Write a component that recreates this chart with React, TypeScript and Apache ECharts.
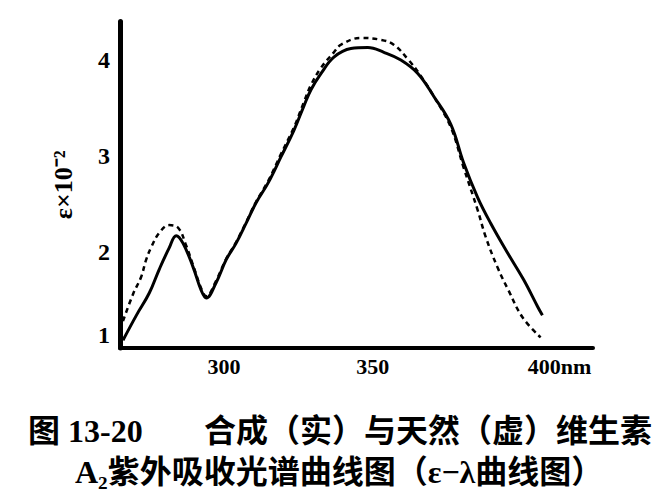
import React, { useEffect, useRef } from "react";
import * as echarts from "echarts";

// wavelength (nm) and ε×10⁻²
const solidX = [266, 270.5, 274.8, 278.2, 281.5, 283.9, 286.2, 289.6, 292.3, 294.0, 297.3, 300.7, 304.0, 307.4, 310.7, 314.8, 319.1, 323.5, 326.8, 329.2, 332.6, 336.9, 342.6, 348.3, 353.7, 359.4, 365.1, 370.5, 376.2, 380.5, 385.2, 389.6, 395.3, 400.7, 405.4, 407.0];
const solidY = [1.08, 1.34, 1.57, 1.82, 2.04, 2.17, 2.09, 1.84, 1.60, 1.52, 1.68, 1.92, 2.09, 2.30, 2.51, 2.72, 2.99, 3.27, 3.52, 3.69, 3.86, 4.03, 4.12, 4.13, 4.08, 4.00, 3.86, 3.62, 3.33, 2.93, 2.57, 2.30, 1.99, 1.71, 1.43, 1.34];

const dashedX = [266, 269.5, 272.1, 273.8, 275.5, 278.2, 281.5, 284.6, 287.2, 289.6, 292.3, 294.0, 297.3, 300.7, 304.0, 307.4, 310.7, 314.8, 319.1, 323.5, 326.8, 329.2, 332.6, 336.9, 339.3, 346.0, 352.7, 357.0, 362.0, 366.0, 370.5, 376.2, 380.5, 385.2, 387.9, 391.9, 395.6, 400.3, 406.4];
const dashedY = [1.28, 1.57, 1.74, 1.92, 2.05, 2.20, 2.28, 2.25, 2.07, 1.86, 1.62, 1.54, 1.70, 1.93, 2.10, 2.31, 2.52, 2.74, 3.02, 3.30, 3.56, 3.74, 3.92, 4.08, 4.16, 4.23, 4.21, 4.16, 4.00, 3.84, 3.62, 3.30, 2.88, 2.44, 2.16, 1.84, 1.60, 1.32, 1.11];

const xTicks = [300, 350, 400];
const yName = "ε×10⁻²";
const caption1a = "图 13-20";
const caption1b = "合成（实）与天然（虚）维生素";
const caption2 = "A₂紫外吸收光谱曲线图（ε−λ曲线图）";

export default function App() {
  const ref = useRef<HTMLDivElement>(null);
  useEffect(() => {
    if (!ref.current) return;
    const chart = echarts.init(ref.current, undefined, { renderer: "svg" });
    const serif = "Liberation Serif";
    const capFont = `"Liberation Serif", "Noto Sans CJK SC"`;
    chart.setOption({
      animation: false,
      backgroundColor: "#fff",
      grid: { left: 120, right: 73, top: 21.6, bottom: 152 },
      xAxis: {
        type: "value",
        min: 265,
        max: 424,
        splitLine: { show: false },
        axisLine: { show: true, lineStyle: { color: "#000", width: 4 } },
        axisTick: { show: false },
        axisLabel: {
          customValues: xTicks,
          margin: 7,
          color: "#000",
          fontFamily: serif,
          fontWeight: "bold",
          fontSize: 22,
          formatter: (v: number) => (v === 400 ? "{n|400nm}" : String(v)),
          rich: {
            n: {
              padding: [0, 0, 0, 76],
              color: "#000",
              fontFamily: serif,
              fontWeight: "bold",
              fontSize: 22,
            },
          },
        },
      },
      yAxis: {
        type: "value",
        min: 1,
        max: 4.4,
        interval: 1,
        name: yName,
        nameLocation: "middle",
        nameRotate: 90,
        nameGap: 44,
        nameTextStyle: { color: "#000", fontFamily: serif, fontWeight: "bold", fontSize: 26 },
        splitLine: { show: false },
        axisLine: { show: true, lineStyle: { color: "#000", width: 5 } },
        axisTick: { show: false },
        axisLabel: {
          margin: 10,
          color: "#000",
          fontFamily: serif,
          fontWeight: "bold",
          fontSize: 24,
          formatter: (v: number) =>
            v === 1 ? "{o|1}" : Number.isInteger(v) ? String(v) : "",
          rich: {
            o: {
              padding: [0, 0, 26, 0],
              color: "#000",
              fontFamily: serif,
              fontWeight: "bold",
              fontSize: 24,
            },
          },
        },
      },
      series: [
        {
          type: "line",
          name: "合成",
          data: solidX.map((x, i) => [x, solidY[i]]),
          smooth: 0.4,
          symbol: "none",
          lineStyle: { color: "#000", width: 3, type: "solid" },
        },
        {
          type: "line",
          name: "天然",
          data: dashedX.map((x, i) => [x, dashedY[i]]),
          smooth: 0.4,
          symbol: "none",
          lineStyle: { color: "#000", width: 2.5, type: [5, 4] },
        },
      ],
      graphic: [
        {
          type: "text",
          x: 28,
          y: 431,
          style: {
            text: caption1a,
            fill: "#000",
            font: `bold 32px ${capFont}`,
            lineHeight: 30,
            textAlign: "left",
            textVerticalAlign: "middle",
          },
        },
        {
          type: "text",
          x: 204,
          y: 431,
          style: {
            text: caption1b,
            fill: "#000",
            font: `bold 32px ${capFont}`,
            lineHeight: 30,
            textAlign: "left",
            textVerticalAlign: "middle",
          },
        },
        {
          type: "text",
          x: 75,
          y: 472,
          style: {
            text: caption2,
            fill: "#000",
            font: `bold 32px ${capFont}`,
            lineHeight: 30,
            textAlign: "left",
            textVerticalAlign: "middle",
          },
        },
      ],
    });
    return () => chart.dispose();
  }, []);
  return (
    <div
      ref={ref}
      style={{ position: "fixed", left: 0, top: 0, width: 666, height: 500, background: "#fff" }}
    />
  );
}
